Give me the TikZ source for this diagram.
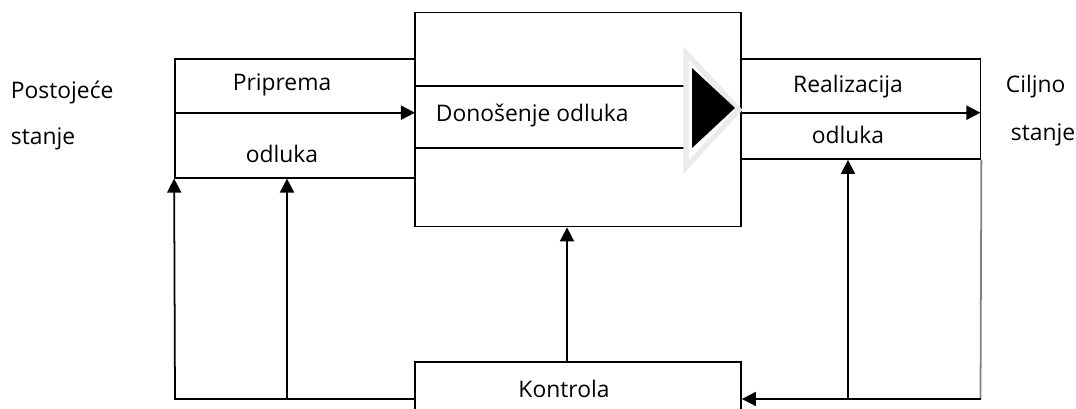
\documentclass[tikz,border=0pt]{standalone}
\usepackage{fontspec}
\setmainfont{Open Sans}
\usetikzlibrary{arrows.meta}
\begin{document}
\begin{tikzpicture}[x=0.02cm, y=-0.02cm, line width=1pt,
  box/.style={draw, rectangle, inner sep=0pt},
  lbl/.style={font=\fontsize{13}{15}\selectfont, inner sep=0pt},
  arr/.style={-{Triangle[length=8pt, width=8pt]}}]
\useasboundingbox (0,0) rectangle (1076,409);
\node[box, minimum width=240*0.02cm, minimum height=118.4*0.02cm] (prip) at (295,118.5){};
\node[box, minimum width=239.5*0.02cm, minimum height=99.7*0.02cm] (real) at (860.75,109.2){};
\node[box, fill=white, minimum width=326*0.02cm, minimum height=214*0.02cm] (dec) at (578,119.5){};
\node[box, minimum width=274*0.02cm, minimum height=62*0.02cm] (don) at (552,117){};
\node[box, minimum width=326*0.02cm, minimum height=78*0.02cm] (kon) at (578,401.3){};
\filldraw[draw=black!8, fill=white, line width=3pt, line join=miter] (686,53) -- (739,110) -- (686,167) -- cycle;
\fill (692,68) -- (735,108) -- (692,148) -- cycle;
\node[lbl, anchor=west] (post) at (10,92){Postojeće};
\node[lbl, anchor=west] (stan1) at (10,139){stanje};
\node[lbl] (pripr) at (282,85){Priprema};
\node[lbl] (odl1) at (282,154){odluka};
\node[lbl, anchor=west] (donos) at (435,115){Donošenje odluka};
\node[lbl] (realiz) at (848,87){Realizacija};
\node[lbl] (odl2) at (848,135){odluka};
\node[lbl, anchor=west] (cilj) at (1005,87){Ciljno};
\node[lbl, anchor=west] (stan2) at (1010,135){stanje};
\node[lbl] (kontr) at (564,389){Kontrola};
\coordinate (pin) at (175,112.7);
\coordinate (pout) at (415,112.7);
\coordinate (rin) at (741,112.7);
\coordinate (rout) at (980.5,112.7);
\coordinate (bl) at (175,399);
\coordinate (bm) at (287,399);
\coordinate (br) at (980.5,399);
\coordinate (bm2) at (848,399);
\coordinate (kc) at (567,362.3);
\draw[arr] (pin) -- (pout);
\draw[arr] (rin) -- (rout);
\draw[arr] (kon.west |- bl) -- (bl) -- (prip.south west);
\draw[arr] (bm) -- (bm |- prip.south);
\draw[gray] (real.south east) -- (br);
\draw[arr] (br) -- (kon.east |- br);
\draw[arr] (bm2) -- (bm2 |- real.south);
\draw[arr] (kc) -- (kc |- dec.south);
\end{tikzpicture}
\end{document}
